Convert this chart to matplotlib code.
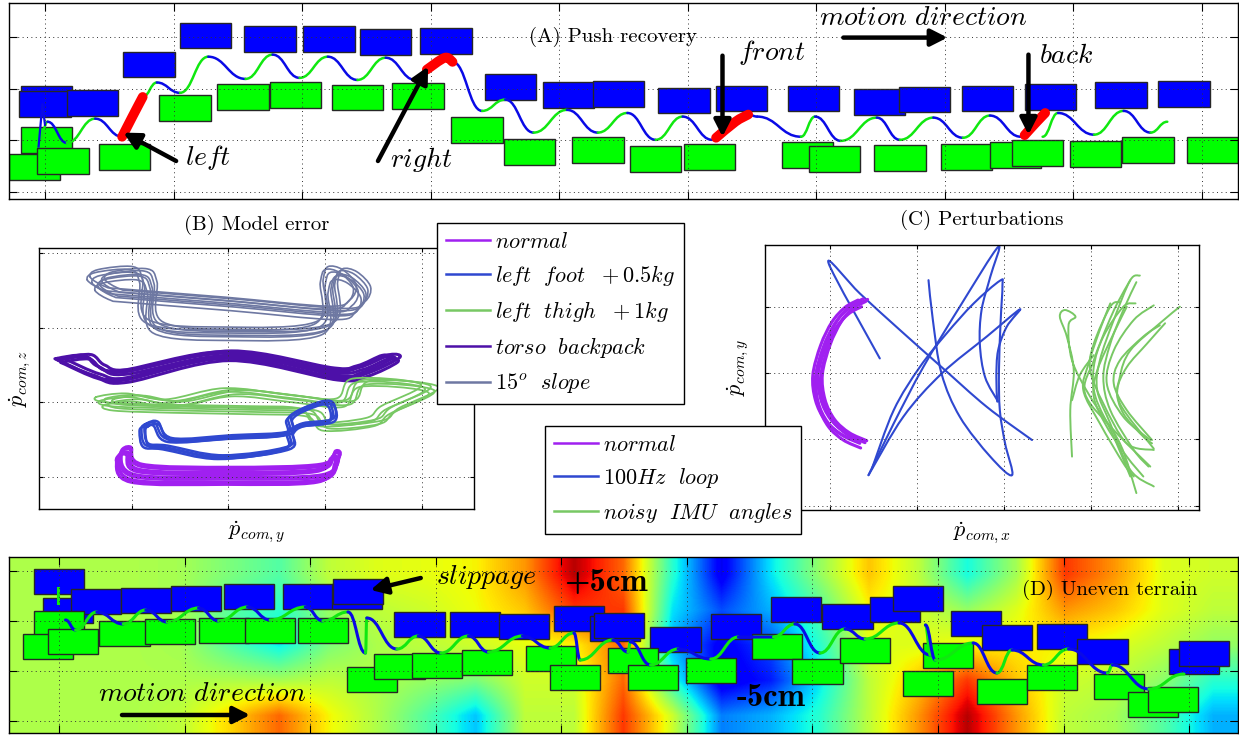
import numpy as np
import matplotlib
matplotlib.use('Agg')
import matplotlib.pyplot as plt
from matplotlib.path import Path
from matplotlib.patches import PathPatch, Rectangle
from matplotlib.lines import Line2D

plt.rcParams['mathtext.fontset'] = 'cm'
plt.rcParams['axes.formatter.use_mathtext'] = True

# ---------------- (A) push recovery ----------------
a_blue_x = [0.01, 0.00, 0.37, 0.81, 1.25, 1.75, 2.21, 2.65, 3.12, 3.62, 4.07, 4.46, 4.97, 5.42, 5.98, 6.49, 6.84, 7.33, 7.82, 8.37, 8.86]
a_blue_y = [1.81, 1.71, 1.73, 2.47, 3.03, 2.97, 2.97, 2.91, 2.93, 2.04, 1.88, 1.90, 1.77, 1.81, 1.81, 1.75, 1.79, 1.81, 1.84, 1.88, 1.90]
a_green_x = [0.01, -0.08, 0.14, 0.62, 1.09, 1.54, 1.95, 2.43, 2.90, 3.36, 3.77, 4.30, 4.75, 5.17, 5.93, 6.14, 6.65, 7.17, 7.55, 7.72, 8.17, 8.58, 9.08]
a_green_y = [1.01, 0.49, 0.60, 0.68, 1.63, 1.84, 1.88, 1.83, 1.86, 1.20, 0.78, 0.82, 0.64, 0.68, 0.72, 0.64, 0.66, 0.68, 0.72, 0.76, 0.74, 0.82, 0.82]

# CoM trajectory: turning points of each walking piece, pushes in between
a_com_x = [[-0.04, 0.02, 0.17, 0.39, 0.60],
           [0.76, 0.87, 1.05, 1.27, 1.56, 1.77, 1.98, 2.20, 2.43, 2.65, 2.88, 2.97],
           [3.17, 3.40, 3.58, 3.80, 4.06, 4.30, 4.53, 4.75, 4.96, 5.19],
           [5.47, 5.54, 5.88, 5.99, 6.19, 6.47, 6.65, 6.91, 7.14, 7.35, 7.59],
           [7.76, 7.88, 8.16, 8.39, 8.60, 8.73]]
a_com_y = [[1.01, 1.36, 0.95, 1.42, 1.07],
           [1.84, 2.12, 1.92, 2.62, 2.19, 2.66, 2.21, 2.62, 2.17, 2.60, 2.17, 2.37],
           [2.52, 1.57, 1.79, 1.15, 1.59, 1.15, 1.53, 1.01, 1.46, 1.01],
           [1.50, 1.46, 1.07, 1.46, 0.99, 1.44, 1.01, 1.44, 1.05, 1.48, 1.07],
           [1.07, 1.53, 1.11, 1.57, 1.15, 1.36]]
a_push_x = [[0.60, 0.68, 0.76], [2.97, 3.11, 3.17], [5.22, 5.37, 5.47], [7.62, 7.70, 7.78]]
a_push_y = [[1.07, 1.46, 1.84], [2.37, 2.60, 2.52], [1.05, 1.36, 1.50], [1.10, 1.32, 1.53]]
a_start_x = [-0.05, -0.02, 0.00]
a_start_y = [0.88, 1.70, 1.30]

# ---------------- (B) model error ----------------
b_labels = [r'$normal$', r'$left\ \ foot\ \ +0.5kg$', r'$left\ \ thigh\ \ +1kg$',
            r'$torso\ \ backpack$', r'$15^o\ \ slope$']
b_colors = ['#a020f0', '#2f48d0', '#78c864', '#4d10a8', '#6e78a2']

b_normal_x = [-0.14, -0.04, 0.08, 0.99, 1.92, 2.08, 2.12, 1.94, 0.99, 0.01, -0.14]
b_normal_y = [0.25, 0.33, 0.10, 0.06, 0.10, 0.28, 0.21, -0.04, -0.07, -0.04, 0.25]
b_foot_x = [0.13, 0.24, 0.39, 1.01, 1.59, 1.62, 1.74, 1.96, 2.06, 2.05, 1.74, 1.63, 1.59, 0.91, 0.34, 0.14, 0.10, 0.13]
b_foot_y = [0.70, 0.72, 0.50, 0.54, 0.59, 0.79, 0.90, 1.00, 0.96, 0.76, 0.70, 0.60, 0.39, 0.27, 0.40, 0.43, 0.63, 0.70]
b_thigh_x = [-0.33, -0.02, 0.39, 0.99, 1.63, 2.15, 2.33, 3.03, 2.62, 2.46, 1.94, 1.77, 1.22, 0.39, -0.23, -0.33]
b_thigh_y = [1.02, 1.07, 0.99, 1.14, 1.06, 1.00, 1.27, 1.19, 0.90, 0.74, 0.68, 0.87, 0.90, 0.92, 0.95, 1.02]
b_torso_x = [-0.74, -0.47, -0.33, -0.07, 0.98, 2.05, 2.36, 2.62, 2.72, 2.41, 2.10, 0.98, -0.07, -0.38, -0.72, -0.74]
b_torso_y = [1.57, 1.61, 1.47, 1.41, 1.66, 1.43, 1.47, 1.61, 1.57, 1.38, 1.33, 1.59, 1.30, 1.35, 1.54, 1.57]
b_slope_x = [-0.41, -0.33, 0.03, 0.13, 0.19, 0.99, 1.94, 2.00, 2.05, 2.20, 2.34, 2.28, 2.05, 0.99, -0.07, -0.25, -0.41]
b_slope_y = [2.60, 2.70, 2.74, 2.57, 2.03, 1.93, 2.01, 2.57, 2.74, 2.70, 2.50, 2.30, 2.21, 2.33, 2.44, 2.47, 2.60]

# repeated gait cycles: shift of each cycle
b_normal_dx = [0.00, 0.02, -0.02, 0.03, 0.01]
b_normal_dy = [0.00, 0.04, -0.03, 0.07, -0.01]
b_foot_dx = [0.00, 0.03, -0.02, 0.04]
b_foot_dy = [0.00, 0.02, -0.03, -0.02]
b_thigh_dx = [0.00, 0.06, 0.10, -0.04, 0.14, 0.04]
b_thigh_dy = [0.00, 0.03, -0.03, 0.05, 0.02, -0.06]
b_torso_dx = [0.00, 0.03, -0.03, 0.05]
b_torso_dy = [0.00, -0.03, 0.02, 0.03]
b_slope_dx = [0.00, 0.06, -0.05, 0.10, 0.03, -0.02, 0.08, 0.13]
b_slope_dy = [0.00, -0.05, 0.04, 0.02, -0.10, 0.08, -0.03, 0.05]

# ---------------- (C) perturbations ----------------
c_labels = [r'$normal$', r'$100Hz\ \ loop$', r'$noisy\ \ IMU\ \ angles$']
c_colors = ['#a020f0', '#2f48d0', '#78c864']

c_normal_x = [0.32, 0.17, 0.02, -0.11, -0.20, -0.17, -0.06, 0.11, 0.31]
c_normal_y = [3.10, 2.99, 2.77, 2.42, 1.97, 1.59, 1.29, 1.09, 0.97]
c_normal_dx = [0.00, 0.03, 0.06, 0.09, 0.04, 0.11]
c_normal_dy = [0.00, -0.03, 0.02, -0.02, -0.10, 0.01]

c_loop_x = [[0.57, -0.02, 0.34, 0.80, 1.28, 1.80, 2.32],
            [0.44, 0.84, 1.28, 1.80, 2.18, 2.03, 1.93, 1.91, 1.92],
            [0.44, 0.73, 1.07, 1.49, 1.93, 1.84, 1.74, 1.72, 1.78, 1.93],
            [1.13, 1.18, 1.28, 1.49, 1.84, 2.09, 2.01, 1.95, 1.94, 1.96, 1.98, 1.95, 1.65, 1.34, 1.03, 0.73, 0.48]]
c_loop_y = [[2.22, 3.66, 3.20, 2.65, 2.09, 1.49, 0.99],
            [0.46, 1.34, 1.99, 2.55, 2.96, 2.70, 2.34, 1.94, 1.57],
            [0.46, 1.24, 2.09, 3.00, 3.90, 3.45, 2.95, 2.44, 1.94, 1.57],
            [3.40, 2.80, 1.99, 1.34, 0.74, 0.46, 0.94, 1.44, 2.04, 2.80, 3.32, 3.39, 3.05, 2.60, 2.09, 1.44, 0.56]]

c_imu_x = [[2.78, 2.76, 2.80, 2.72, 2.64, 2.70, 2.82, 2.74, 2.78, 2.99, 3.33, 3.52],
           [3.56, 3.45, 3.26, 3.10, 3.07, 3.22, 3.45, 3.72],
           [3.72, 3.49, 3.26, 3.18, 3.37, 3.68],
           [4.02, 3.79, 3.45, 3.33, 3.33, 3.72],
           [3.51, 3.37, 3.14, 3.03, 3.05, 3.26, 3.45],
           [3.45, 3.30, 3.18, 3.03, 2.93, 3.26, 3.68],
           [3.33, 3.22, 3.03, 2.99, 3.14, 3.41, 3.72],
           [3.79, 3.60, 3.33, 3.26, 3.41, 3.70],
           [3.03, 2.87, 2.78],
           [3.22, 3.10, 2.97, 2.91, 3.10, 3.37, 3.49],
           [3.52, 3.37, 3.22, 3.14, 3.22, 3.49, 3.66],
           [3.85, 3.64, 3.41, 3.30, 3.37, 3.60, 3.70],
           [3.41, 3.26, 3.07, 3.03, 3.18, 3.41, 3.60]]
c_imu_y = [[0.74, 1.44, 2.04, 2.55, 2.85, 2.95, 2.85, 2.72, 2.19, 1.64, 0.94, 0.19],
           [3.47, 3.40, 2.80, 2.19, 1.74, 1.24, 0.54, 0.29],
           [3.02, 2.80, 2.34, 1.84, 1.34, 0.99],
           [3.00, 2.75, 2.34, 1.94, 1.54, 0.86],
           [3.05, 3.00, 2.55, 2.09, 1.64, 1.04, 0.44],
           [3.40, 3.05, 2.70, 2.19, 1.69, 1.14, 0.59],
           [3.07, 3.00, 2.44, 2.04, 1.54, 0.94, 0.84],
           [2.72, 2.55, 2.19, 1.84, 1.44, 0.99],
           [2.27, 1.97, 1.59],
           [3.05, 2.65, 2.14, 1.74, 1.24, 0.64, 0.44],
           [3.37, 2.95, 2.44, 1.94, 1.44, 0.84, 0.59],
           [2.75, 2.44, 2.09, 1.74, 1.39, 1.04, 0.94],
           [3.00, 2.60, 2.04, 1.64, 1.19, 0.74, 0.44]]

# ---------------- (D) uneven terrain ----------------
# terrain height (cm), rows top -> bottom, columns left -> right
d_height = [
    [0.6, 0.6, 0.6, 0.5, 0.0, -0.5, 0.8, 1.2, 1.3, 1.5, 2.5, 4.5, 3.0, -1.0, -4.0, -1.5, 0.3, 2.0, 0.8, -1.2, 0.5, 3.5, 2.5, 1.2, 1.0],
    [0.6, 0.6, 0.6, 0.5, -0.4, -1.0, 0.3, 0.8, 1.0, 1.4, 2.0, 3.5, 3.5, -1.5, -3.0, -2.0, -0.5, 1.5, 1.0, 0.3, 1.2, 2.5, 2.0, 1.2, 0.8],
    [0.6, 0.6, 0.6, 0.5, -0.5, -1.4, 0.0, 0.6, 0.8, 1.0, 1.3, 1.5, 3.0, -2.0, -4.0, -3.0, -1.0, 1.2, 1.2, 1.5, 1.6, 1.5, 1.2, 0.8, 0.3],
    [0.6, 0.6, 0.6, 0.6, 0.6, 0.5, 0.8, 0.6, 0.3, 0.0, 1.0, 1.0, 3.0, -1.0, -4.2, -3.5, -1.5, 0.8, 2.0, 3.5, 2.0, 1.0, 0.8, 0.2, -1.0],
    [0.6, 0.6, 0.6, 0.8, 1.8, 3.0, 1.5, 0.6, -0.5, -1.8, 0.8, 0.8, 3.5, 1.0, -2.5, -2.0, -1.0, 0.8, 2.5, 4.5, 2.5, 0.8, 0.5, -0.5, -2.0],
]

d_blue_x = [0.00, 0.07, 0.29, 0.69, 1.09, 1.51, 1.98, 2.37, 2.38, 2.87, 3.31, 3.70, 4.14, 4.43, 4.46, 4.91, 5.39, 5.87, 6.28, 6.66, 6.84, 7.30, 7.55, 7.99, 8.31, 9.04, 9.12]
d_blue_y = [2.78, 2.20, 2.38, 2.40, 2.44, 2.48, 2.48, 2.48, 2.58, 1.92, 1.92, 1.88, 2.04, 1.84, 1.90, 1.62, 1.88, 2.22, 2.08, 2.22, 2.44, 1.94, 1.66, 1.68, 1.38, 1.18, 1.34]
d_green_x = [0.00, -0.09, 0.11, 0.52, 0.88, 1.31, 1.68, 2.10, 2.49, 2.71, 3.01, 3.41, 3.92, 4.11, 4.57, 4.73, 5.19, 5.72, 6.04, 6.42, 6.92, 7.08, 7.51, 7.91, 8.44, 8.71, 8.87]
d_green_y = [1.94, 1.48, 1.58, 1.74, 1.78, 1.80, 1.80, 1.80, 0.82, 1.08, 1.10, 1.16, 1.24, 0.86, 1.20, 0.86, 1.00, 1.48, 0.98, 1.40, 0.74, 1.30, 0.58, 0.86, 0.68, 0.32, 0.42]

d_com_x = [0.01, 0.05, 0.13, 0.30, 0.51, 0.69, 0.86, 1.11, 1.27, 1.50, 1.68, 1.96, 2.10, 2.30, 2.44, 2.45, 2.69, 2.86, 3.04, 3.26,
           3.42, 3.69, 3.91, 4.10, 4.15, 4.41, 4.53, 4.55, 4.71, 4.93, 5.19, 5.41, 5.69, 5.86, 6.06, 6.26, 6.42, 6.69, 6.94, 6.90,
           6.98, 7.28, 7.47, 7.59, 7.84, 8.04, 8.35, 8.39, 8.68, 8.96]
d_com_y = [1.91, 2.01, 1.81, 2.17, 1.93, 2.21, 1.97, 2.25, 1.99, 2.27, 2.01, 2.27, 1.99, 2.17, 1.35, 2.05, 1.43, 1.69, 1.35, 1.69,
           1.37, 1.69, 1.45, 1.75, 1.21, 1.61, 1.37, 1.57, 1.11, 1.43, 1.23, 1.67, 1.67, 1.93, 1.35, 1.83, 1.63, 1.95, 1.31, 1.91,
           1.21, 1.55, 0.95, 1.41, 1.11, 1.43, 0.95, 1.11, 0.63, 0.93]
d_start_x = [-0.01, -0.01]
d_start_y = [2.65, 2.35]

FOOT_W, FOOT_H = 0.40, 0.50
COM_BLUE = '#0a0ae6'
COM_GREEN = '#10e810'


def smooth_path(xs, ys, closed=False):
    pts = np.column_stack([xs, ys]).astype(float)
    n = len(pts)
    verts = [pts[0]]
    codes = [Path.MOVETO]
    for i in range(n - 1):
        if i > 0:
            p0 = pts[i - 1]
        else:
            p0 = pts[-2] if closed else pts[0]
        p1, p2 = pts[i], pts[i + 1]
        if i + 2 < n:
            p3 = pts[i + 2]
        else:
            p3 = pts[1] if closed else pts[-1]
        verts += [p1 + (p2 - p0) / 6.0, p2 - (p3 - p1) / 6.0, p2]
        codes += [Path.CURVE4] * 3
    return Path(verts, codes)


def draw_curve(ax, xs, ys, color, lw, closed=False, z=2):
    ax.add_patch(PathPatch(smooth_path(xs, ys, closed), fill=False, ec=color, lw=lw,
                           capstyle='round', joinstyle='round', zorder=z))


def draw_cycles(ax, xs, ys, dxs, dys, color, lw, closed=True):
    for dx, dy in zip(dxs, dys):
        draw_curve(ax, np.array(xs) + dx, np.array(ys) + dy, color, lw, closed)


def com_wave(ax, xs, ys, lw):
    for i in range(len(xs) - 1):
        x0, y0, x1, y1 = xs[i], ys[i], xs[i + 1], ys[i + 1]
        c = (x1 - x0) * 0.45
        path = Path([(x0, y0), (x0 + c, y0), (x1 - c, y1), (x1, y1)],
                    [Path.MOVETO, Path.CURVE4, Path.CURVE4, Path.CURVE4])
        col = COM_GREEN if y1 > y0 else COM_BLUE
        ax.add_patch(PathPatch(path, fill=False, ec=col, lw=lw, capstyle='round', zorder=2))


def feet(ax, xs, ys, color):
    for x, y in zip(xs, ys):
        ax.add_patch(Rectangle((x - FOOT_W / 2, y - FOOT_H / 2), FOOT_W, FOOT_H,
                               fc=color, ec='0.15', lw=1.0, zorder=1))


def style(ax, xlim, ylim, nx, ny, ticklen):
    ax.set_xlim(xlim)
    ax.set_ylim(ylim)
    ax.set_xticks(range(nx))
    ax.set_yticks(range(ny))
    ax.tick_params(direction='in', top=True, right=True, length=ticklen, width=0.8,
                   labelbottom=False, labelleft=False)
    ax.grid(True, linestyle=(0, (1, 3.5)), color='0.2', lw=0.7)
    ax.set_axisbelow(False)
    for s in ax.spines.values():
        s.set_linewidth(1.0)


def arrow(ax, tail, head):
    ax.annotate('', xy=head, xytext=tail,
                arrowprops=dict(arrowstyle='-|>,head_length=0.55,head_width=0.28', lw=3.2,
                                color='k', mutation_scale=18, shrinkA=0, shrinkB=0), zorder=4)


W, H = 1239, 735
fig = plt.figure(figsize=(W / 100, H / 100), dpi=100)


def px_axes(l, t, r, b):
    return fig.add_axes([l / W, 1 - b / H, (r - l) / W, (b - t) / H])


TXT = dict(fontsize=20, zorder=5)
TITLE = dict(fontsize=15, family='cmr10')
BOLD = dict(fontsize=23.5, family='cmb10', zorder=5)

# ---- panel A
ax_a = px_axes(9, 3, 1238, 199)
style(ax_a, (-0.28, 9.28), (-0.136, 3.66), 10, 4, 6)
feet(ax_a, a_blue_x, a_blue_y, '#0000ff')
feet(ax_a, a_green_x, a_green_y, '#00ff00')
for xs, ys in zip(a_com_x, a_com_y):
    com_wave(ax_a, xs, ys, 1.8)
ax_a.plot(a_start_x, a_start_y, color=COM_BLUE, lw=1.6, zorder=2)
for xs, ys in zip(a_push_x, a_push_y):
    draw_curve(ax_a, xs, ys, 'red', 7, z=3)
ax_a.text(4.42, 3.01, '(A) Push recovery', ha='center', va='center', zorder=5, **TITLE)
ax_a.text(1.09, 0.66, r'$left$', ha='left', va='center', **TXT)
ax_a.text(2.68, 0.62, r'$right$', ha='left', va='center', **TXT)
ax_a.text(5.39, 2.70, r'$front$', ha='left', va='center', **TXT)
ax_a.text(7.73, 2.66, r'$back$', ha='left', va='center', **TXT)
ax_a.text(6.02, 3.38, r'$motion\ direction$', ha='left', va='center', **TXT)
arrow(ax_a, (1.02, 0.60), (0.61, 1.15))
arrow(ax_a, (2.59, 0.60), (2.98, 2.43))
arrow(ax_a, (5.27, 2.64), (5.27, 1.07))
arrow(ax_a, (7.65, 2.66), (7.65, 1.11))
arrow(ax_a, (6.21, 2.99), (7.02, 2.99))

# ---- panel B
ax_b = px_axes(39, 248, 474, 509)
style(ax_b, (-0.96, 3.54), (-0.43, 3.07), 4, 4, 3)
draw_cycles(ax_b, b_slope_x, b_slope_y, b_slope_dx, b_slope_dy, b_colors[4], 1.2)
draw_cycles(ax_b, b_torso_x, b_torso_y, b_torso_dx, b_torso_dy, b_colors[3], 2.2)
draw_cycles(ax_b, b_thigh_x, b_thigh_y, b_thigh_dx, b_thigh_dy, b_colors[2], 1.3)
draw_cycles(ax_b, b_foot_x, b_foot_y, b_foot_dx, b_foot_dy, b_colors[1], 1.8)
draw_cycles(ax_b, b_normal_x, b_normal_y, b_normal_dx, b_normal_dy, b_colors[0], 2.2)
ax_b.text(0.5, 1.088, '(B) Model error', transform=ax_b.transAxes, ha='center', va='center', **TITLE)
ax_b.text(0.5, -0.088, r'$\dot{p}_{com,y}$', transform=ax_b.transAxes, ha='center', va='center', fontsize=16)
ax_b.text(-0.044, 0.5, r'$\dot{p}_{com,z}$', transform=ax_b.transAxes, ha='center', va='center',
          rotation=90, fontsize=16)
hb = [Line2D([], [], color=c, lw=1.8) for c in b_colors]
leg_b = ax_b.legend(hb, b_labels, loc='upper left', bbox_to_anchor=(437 / W, 1 - 223 / H),
                    bbox_transform=fig.transFigure, fontsize=16, fancybox=False, edgecolor='black',
                    framealpha=1, borderaxespad=0, handlelength=2.0, handletextpad=0.2,
                    labelspacing=0.5, borderpad=0.4)
leg_b.get_frame().set_linewidth(1.0)

# ---- panel C
ax_c = px_axes(765, 245, 1199, 510)
style(ax_c, (-0.75, 4.24), (-0.065, 3.93), 5, 4, 3)
for xs, ys in zip(c_imu_x, c_imu_y):
    draw_curve(ax_c, xs, ys, c_colors[2], 1.4)
for xs, ys in zip(c_loop_x, c_loop_y):
    draw_curve(ax_c, xs, ys, c_colors[1], 1.5)
draw_cycles(ax_c, c_normal_x, c_normal_y, c_normal_dx, c_normal_dy, c_colors[0], 2.2, closed=False)
ax_c.text(0.5, 1.094, '(C) Perturbations', transform=ax_c.transAxes, ha='center', va='center', **TITLE)
ax_c.text(0.5, -0.087, r'$\dot{p}_{com,x}$', transform=ax_c.transAxes, ha='center', va='center', fontsize=16)
ax_c.text(-0.062, 0.54, r'$\dot{p}_{com,y}$', transform=ax_c.transAxes, ha='center', va='center',
          rotation=90, fontsize=16)
hc = [Line2D([], [], color=c, lw=1.8) for c in c_colors]
leg_c = ax_c.legend(hc, c_labels, loc='upper left', bbox_to_anchor=(545 / W, 1 - 426 / H),
                    bbox_transform=fig.transFigure, fontsize=16, fancybox=False, edgecolor='black',
                    framealpha=1, borderaxespad=0, handlelength=2.0, handletextpad=0.2,
                    labelspacing=0.5, borderpad=0.4)
leg_c.get_frame().set_linewidth(1.0)

# ---- panel D
ax_d = px_axes(9, 557, 1238, 733)
ax_d.imshow(d_height, cmap='jet', vmin=-5, vmax=5, extent=(-0.4, 9.39, -0.25, 3.27),
            aspect='auto', interpolation='bilinear', origin='upper', zorder=0)
style(ax_d, (-0.4, 9.39), (-0.25, 3.27), 10, 4, 6)
feet(ax_d, d_blue_x, d_blue_y, '#0000ff')
feet(ax_d, d_green_x, d_green_y, '#00ff00')
com_wave(ax_d, d_com_x, d_com_y, 2.2)
ax_d.plot(d_start_x, d_start_y, color=COM_GREEN, lw=2.2, zorder=2)
ax_d.text(3.00, 2.87, r'$slippage$', ha='left', va='center', **TXT)
arrow(ax_d, (2.88, 2.85), (2.48, 2.61))
ax_d.text(4.02, 2.75, '+5cm', ha='left', va='center', **BOLD)
ax_d.text(5.40, 0.47, '-5cm', ha='left', va='center', **BOLD)
ax_d.text(7.67, 2.61, '(D) Uneven terrain', ha='left', va='center', zorder=5, **TITLE)
ax_d.text(0.31, 0.55, r'$motion\ direction$', ha='left', va='center', **TXT)
arrow(ax_d, (0.50, 0.11), (1.52, 0.11))

fig.savefig('out.png', dpi=100)
